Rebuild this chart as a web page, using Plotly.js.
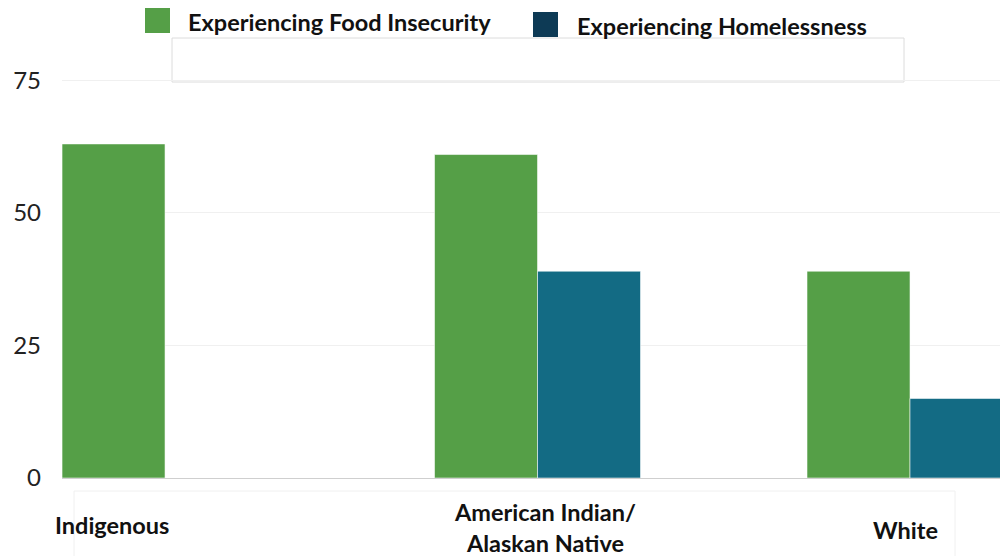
<!DOCTYPE html>
<html>
<head>
<meta charset="utf-8">
<script src="https://cdn.plot.ly/plotly-3.0.1.min.js"></script>
<style>html,body{margin:0;padding:0;background:#fff;}#chart{width:1000px;height:556px;}</style>
</head>
<body>
<div id="chart"></div>
<script>
const categories = ["Indigenous", "American Indian/<br>Alaskan Native", "White"];
const seriesNames = ["Experiencing Food Insecurity", "Experiencing Homelessness"];
const foodInsecurity = [63, 61, 39];
const homelessness = [null, 39, 15];
const yTickVals = [0, 25, 50, 75];

const barColors = ["#559f47", "#136b84"];
const legendColors = ["#559f47", "#0d3a55"];

// plot area in pixels (for converting overlay positions)
const PL = 62, PR = 1000, PT = 75, PB = 478;
const px = v => (v - PL) / (PR - PL);
const py = v => (PB - v) / (PB - PT);

const labelShift = [-53, 7, -5];
const labelCenterY = [525, 527, 530];

const traces = [
  {type: "bar", name: seriesNames[0], x: categories, y: foodInsecurity,
   marker: {color: barColors[0], line: {color: "rgba(255,255,255,0.55)", width: 1}},
   showlegend: false, hoverinfo: "none"},
  {type: "bar", name: seriesNames[1], x: categories, y: homelessness,
   marker: {color: barColors[1], line: {color: "rgba(255,255,255,0.55)", width: 1}},
   showlegend: false, hoverinfo: "none"}
];

const annotations = categories.map((c, i) => ({
  x: c, xref: "x", y: py(labelCenterY[i]), yref: "paper", yanchor: "middle",
  xshift: labelShift[i], text: "<b>" + c + "</b>", showarrow: false,
  font: {family: "Lato", size: 23.5, color: "#111"}, align: "center"
}));

// legend
const legendX = [186, 575];
const legendY = [22, 26];
const legendSq = [[145, 8], [533, 12]];
seriesNames.forEach((n, i) => {
  annotations.push({x: px(legendX[i]), xref: "paper", xanchor: "left",
    y: py(legendY[i]), yref: "paper", yanchor: "middle",
    text: "<b>" + n + "</b>", showarrow: false,
    font: {family: "Lato", size: 23.5, color: "#111"}});
});
const shapes = seriesNames.map((n, i) => ({
  type: "rect", xref: "paper", yref: "paper",
  x0: px(legendSq[i][0]), x1: px(legendSq[i][0] + 25),
  y0: py(legendSq[i][1] + 25), y1: py(legendSq[i][1]),
  fillcolor: legendColors[i], line: {width: 0}
}));
// faint boxes
shapes.push({type: "rect", xref: "paper", yref: "paper",
  x0: px(172), x1: px(904), y0: py(82), y1: py(38),
  line: {color: "#dcdcdc", width: 1}, fillcolor: "rgba(0,0,0,0)", layer: "below"});
shapes.push({type: "rect", xref: "paper", yref: "paper",
  x0: px(74), x1: px(955), y0: py(560), y1: py(491),
  line: {color: "#f0f0f0", width: 1}, fillcolor: "rgba(0,0,0,0)", layer: "below"});

const layout = {
  width: 1000, height: 556,
  margin: {l: PL, r: 1000 - PR, t: PT, b: 556 - PB},
  paper_bgcolor: "#fff", plot_bgcolor: "#fff",
  barmode: "group", bargap: 0.447, bargroupgap: 0,
  xaxis: {type: "category", range: [-0.2766, 2.2416], showticklabels: false,
    showgrid: false, zeroline: false, showline: false, ticks: ""},
  yaxis: {range: [0, 76], tickvals: yTickVals, ticktext: yTickVals.map(String),
    showgrid: true, gridcolor: "#f0f0f0", gridwidth: 1,
    zeroline: true, zerolinecolor: "#cfcfcf", zerolinewidth: 1,
    showline: false, ticks: "", ticklabelstandoff: 20,
    tickfont: {family: "Lato", size: 24, color: "#222"}},
  showlegend: false,
  annotations: annotations,
  shapes: shapes
};

Plotly.newPlot("chart", traces, layout, {staticPlot: true, displayModeBar: false});
</script>
</body>
</html>
